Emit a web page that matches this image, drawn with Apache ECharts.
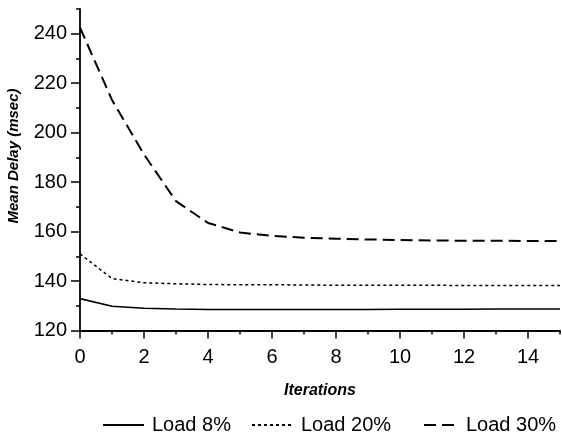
<!DOCTYPE html>
<html>
<head>
<meta charset="utf-8">
<script src="https://cdn.jsdelivr.net/npm/echarts@6/dist/echarts.min.js"></script>
<style>html,body{margin:0;padding:0;background:#fff;}#c{width:562px;height:437px;}</style>
</head>
<body>
<div id="c"></div>
<script>
const iterations = [0,1,2,3,4,5,6,7,8,9,10,11,12,13,14,15];
const load8  = [132.9,129.8,129.0,128.7,128.5,128.5,128.5,128.5,128.5,128.5,128.6,128.6,128.6,128.7,128.7,128.7];
const load20 = [151.0,141.0,139.3,138.9,138.6,138.5,138.5,138.4,138.3,138.3,138.3,138.3,138.2,138.2,138.2,138.2];
const load30 = [242.5,213.2,191.2,172.3,163.5,159.6,158.3,157.5,157.1,156.8,156.6,156.4,156.3,156.3,156.2,156.2];
const xMajorTicks = [0,2,4,6,8,10,12,14];
const xMinorTicks = [1,3,5,7,9,11,13,15];
const yMajorTicks = [120,140,160,180,200,220,240];
const yMinorTicks = [130,150,170,190,210,230,250];
const seriesNames = ['Load 8%','Load 20%','Load 30%'];

const FONT = 'Liberation Sans, Arial, Helvetica, sans-serif';
const chart = echarts.init(document.getElementById('c'), null, {renderer:'canvas'});
const gridBox = {left:80, right:2, top:9, bottom:106.5, containLabel:false};
const axisLineStyle = {color:'#000', width:1.8};
function pairs(vals){ return iterations.map((x,i)=>[x, vals[i]]); }

const legendCommon = {
  orient:'horizontal', top:410, itemHeight:12, selectedMode:false,
  itemStyle:{opacity:0},
  textStyle:{fontFamily:FONT, fontSize:20, color:'#000', padding:[0,0,0,3]}
};

chart.setOption({
  animation:false,
  backgroundColor:'#fff',
  grid:[Object.assign({}, gridBox), Object.assign({}, gridBox)],
  xAxis:[
    {type:'value', gridIndex:0, min:0, max:15, position:'bottom',
     axisLine:{show:true, lineStyle:axisLineStyle},
     axisTick:{show:true, customValues:xMajorTicks, length:8, lineStyle:{color:'#000', width:1.5}},
     axisLabel:{customValues:xMajorTicks, margin:17, fontFamily:FONT, fontSize:20, color:'#000'},
     splitLine:{show:false},
     name:'Iterations', nameLocation:'middle', nameGap:52,
     nameTextStyle:{fontFamily:FONT, fontSize:16, fontWeight:'bold', fontStyle:'italic', color:'#000'}},
    {type:'value', gridIndex:1, min:0, max:15, position:'bottom',
     axisLine:{show:false},
     axisTick:{show:true, customValues:xMinorTicks, length:4, lineStyle:{color:'#000', width:1.5}},
     axisLabel:{show:false}, splitLine:{show:false}}
  ],
  yAxis:[
    {type:'value', gridIndex:0, min:120, max:250, position:'left',
     axisLine:{show:true, lineStyle:axisLineStyle},
     axisTick:{show:true, customValues:yMajorTicks, length:9, lineStyle:{color:'#000', width:1.5}},
     axisLabel:{customValues:yMajorTicks, margin:13, fontFamily:FONT, fontSize:20, color:'#000'},
     splitLine:{show:false}},
    {type:'value', gridIndex:1, min:120, max:250, position:'left',
     axisLine:{show:false},
     axisTick:{show:true, customValues:yMinorTicks, length:4, lineStyle:{color:'#000', width:1.5}},
     axisLabel:{show:false}, splitLine:{show:false}}
  ],
  legend:[
    Object.assign({}, legendCommon, {left:97, itemWidth:41, data:[seriesNames[0]]}),
    Object.assign({}, legendCommon, {left:246, itemWidth:41, data:[seriesNames[1]]}),
    Object.assign({}, legendCommon, {left:418, itemWidth:34, data:[seriesNames[2]]})
  ],
  graphic:[{
    type:'text', x:14, y:156, rotation:Math.PI/2,
    style:{text:'Mean Delay (msec)', fontFamily:FONT, fontSize:15, fontWeight:'bold', fontStyle:'italic',
           fill:'#000', align:'center', verticalAlign:'middle'}
  }],
  series:[
    {name:seriesNames[0], type:'line', xAxisIndex:0, yAxisIndex:0, data:pairs(load8),
     symbol:'none', smooth:false, lineStyle:{color:'#000', width:1.6, type:'solid'}, itemStyle:{color:'#000'}},
    {name:seriesNames[1], type:'line', xAxisIndex:0, yAxisIndex:0, data:pairs(load20),
     symbol:'none', smooth:false, lineStyle:{color:'#000', width:1.5, type:[3,3]}, itemStyle:{color:'#000'}},
    {name:seriesNames[2], type:'line', xAxisIndex:0, yAxisIndex:0, data:pairs(load30),
     symbol:'none', smooth:false, lineStyle:{color:'#000', width:2, type:[12,6]}, itemStyle:{color:'#000'}}
  ]
});
</script>
</body>
</html>
